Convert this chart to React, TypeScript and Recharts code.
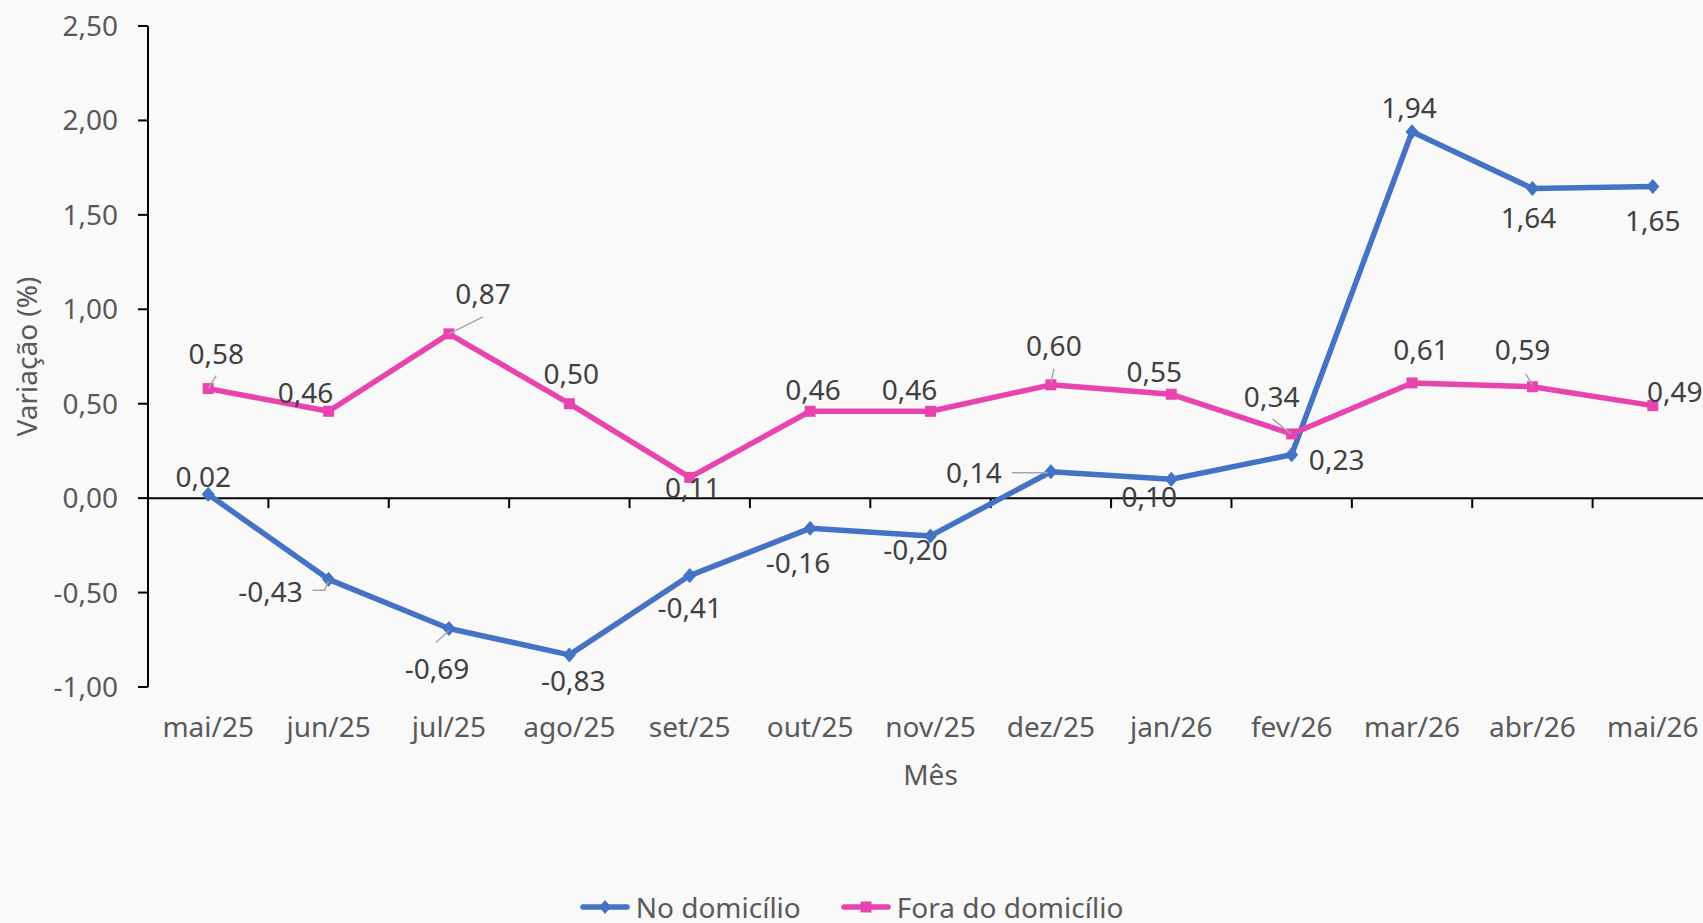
import React from 'react';
import { LineChart, Line, XAxis, YAxis, ReferenceLine, LabelList, Legend } from 'recharts';

const months = ['mai/25', 'jun/25', 'jul/25', 'ago/25', 'set/25', 'out/25', 'nov/25', 'dez/25', 'jan/26', 'fev/26', 'mar/26', 'abr/26', 'mai/26'];
const noDomicilio = [0.02, -0.43, -0.69, -0.83, -0.41, -0.16, -0.2, 0.14, 0.1, 0.23, 1.94, 1.64, 1.65];
const foraDomicilio = [0.58, 0.46, 0.87, 0.5, 0.11, 0.46, 0.46, 0.6, 0.55, 0.34, 0.61, 0.59, 0.49];
const yTicks = [-1, -0.5, 0, 0.5, 1, 1.5, 2, 2.5];
const seriesNames = ['No domicílio', 'Fora do domicílio'];

const BLUE = '#4472C4';
const PINK = '#E844AF';
const FONT = "'Noto Sans', sans-serif";
const TICK_COLOR = '#595959';
const LABEL_COLOR = '#404040';
const LEADER = '#A6A6A6';

type Placement = { dx: number; dy: number; leader?: number[][] };

// label placement (layout only: offset from point, and leader line points)
const noPlacement: Placement[] = [
  { dx: -5, dy: -7 },
  { dx: -58, dy: 23, leader: [[0, 2], [-4, 11], [-16, 11]] },
  { dx: -12, dy: 51, leader: [[0, 2], [-13, 14]] },
  { dx: 4, dy: 36 },
  { dx: 0, dy: 42 },
  { dx: -12, dy: 45 },
  { dx: -15, dy: 24 },
  { dx: -77, dy: 11, leader: [[-39, 1], [-3, 1]] },
  { dx: -22, dy: 28 },
  { dx: 45, dy: 15 },
  { dx: -3, dy: -14 },
  { dx: -4, dy: 40 },
  { dx: 0, dy: 44 },
];
const foraPlacement: Placement[] = [
  { dx: 8, dy: -25, leader: [[0, 0], [8, -13]] },
  { dx: -23, dy: -8 },
  { dx: 34, dy: -30, leader: [[0, 0], [34, -17]] },
  { dx: 2, dy: -20 },
  { dx: 3, dy: 21 },
  { dx: 3, dy: -11 },
  { dx: -21, dy: -11 },
  { dx: 3, dy: -29, leader: [[0, -2], [3, -16]] },
  { dx: -17, dy: -12 },
  { dx: -20, dy: -27, leader: [[-19, -15], [-1, 0]] },
  { dx: 9, dy: -23 },
  { dx: -10, dy: -27, leader: [[-7, -13], [0, -2]] },
  { dx: 22, dy: -4 },
];

const data = months.map((m, i) => ({ mes: m, no: noDomicilio[i], fora: foraDomicilio[i] }));

const fmt = (v: number) => v.toFixed(2).replace('.', ',');

const makeLabel = (placement: Placement[]) => (props: any) => {
  const vb = props.viewBox || {};
  const x = props.x ?? vb.x;
  const y = props.y ?? vb.y;
  const idx = props.index;
  const p = placement[idx] || { dx: 0, dy: -12 };
  if (x == null || y == null) return null;
  return (
    <g key={`lbl-${idx}`}>
      {p.leader && (
        <polyline
          points={p.leader.map(([a, b]) => `${x + a},${y + b}`).join(' ')}
          fill="none"
          stroke={LEADER}
          strokeWidth={1.5}
        />
      )}
      <text x={x + p.dx} y={y + p.dy} textAnchor="middle" fontFamily={FONT} fontSize={28} fill={LABEL_COLOR}>
        {fmt(Number(props.value))}
      </text>
    </g>
  );
};

const diamondDot = (props: any) => {
  const { cx, cy, index } = props;
  if (cx == null || cy == null) return <g key={`d-${index}`} />;
  return (
    <path
      key={`d-${index}`}
      d={`M${cx},${cy - 7}L${cx + 6},${cy}L${cx},${cy + 7}L${cx - 6},${cy}Z`}
      fill={BLUE}
      stroke={BLUE}
      strokeWidth={1}
    />
  );
};

const squareDot = (props: any) => {
  const { cx, cy, index } = props;
  if (cx == null || cy == null) return <g key={`s-${index}`} />;
  return <rect key={`s-${index}`} x={cx - 5.5} y={cy - 5.5} width={11} height={11} fill={PINK} />;
};

const zeroAxisShape = (props: any) => {
  const { x1, y1, x2 } = props;
  const n = months.length;
  const step = (x2 - x1) / n;
  const ticks = [];
  for (let k = 1; k <= n; k++) {
    const tx = x1 + k * step;
    ticks.push(<line key={k} x1={tx} y1={y1} x2={tx} y2={y1 + 10} stroke="#000" strokeWidth={2} />);
  }
  return (
    <g>
      <line x1={x1} y1={y1} x2={x2} y2={y1} stroke="#000" strokeWidth={2} />
      {ticks}
    </g>
  );
};

const LegendContent = () => {
  const items = [
    { name: seriesNames[0], color: BLUE, shape: 'diamond' },
    { name: seriesNames[1], color: PINK, shape: 'square' },
  ];
  return (
    <div style={{ display: 'flex', justifyContent: 'center', alignItems: 'center', fontFamily: FONT, fontSize: 28, color: TICK_COLOR, lineHeight: '40px' }}>
      {items.map((it, i) => (
        <div key={it.name} style={{ display: 'flex', alignItems: 'center', marginLeft: i === 0 ? 0 : 40 }}>
          <svg width={50} height={20} style={{ display: 'block' }}>
            <line x1={3} y1={10} x2={47} y2={10} stroke={it.color} strokeWidth={5.5} strokeLinecap="round" />
            {it.shape === 'diamond' ? (
              <path d="M25,3L31,10L25,17L19,10Z" fill={it.color} />
            ) : (
              <rect x={19.5} y={4.5} width={11} height={11} fill={it.color} />
            )}
          </svg>
          <span style={{ marginLeft: 6 }}>{it.name}</span>
        </div>
      ))}
    </div>
  );
};

export default function App() {
  return (
    <div style={{ position: 'fixed', left: 0, top: 0, width: 1703, height: 923, overflow: 'hidden', background: '#F9F9F9' }}>
      <LineChart width={1720} height={923} data={data} margin={{ top: 26, right: 7, bottom: 0, left: 0 }}>
        <ReferenceLine y={0} shape={zeroAxisShape} ifOverflow="visible" />
        <XAxis
          dataKey="mes"
          scale="band"
          height={236}
          axisLine={false}
          tickLine={false}
          tickSize={0}
          tickMargin={30}
          interval={0}
          tick={{ fontFamily: FONT, fontSize: 28, fill: TICK_COLOR }}
          label={{
            content: (p: any) => {
              const vb = p.viewBox || { x: 148, y: 687, width: 1565 };
              return (
                <text x={vb.x + vb.width / 2} y={vb.y + 98} textAnchor="middle" fontFamily={FONT} fontSize={28} fill={TICK_COLOR}>
                  Mês
                </text>
              );
            },
          }}
        />
        <YAxis
          width={148}
          domain={[-1, 2.5]}
          ticks={yTicks}
          interval={0}
          allowDataOverflow
          tickSize={10}
          tickMargin={20}
          tickFormatter={fmt}
          axisLine={{ stroke: '#000', strokeWidth: 2 }}
          tickLine={{ stroke: '#000', strokeWidth: 2 }}
          tick={{ fontFamily: FONT, fontSize: 28, fill: TICK_COLOR }}
          label={{
            content: (p: any) => {
              const vb = p.viewBox || { x: 0, y: 26, width: 148, height: 661 };
              const cx = vb.x + 37;
              const cy = vb.y + vb.height / 2;
              return (
                <text x={cx} y={cy} transform={`rotate(-90, ${cx}, ${cy})`} textAnchor="middle" fontFamily={FONT} fontSize={28} fill={TICK_COLOR}>
                  Variação (%)
                </text>
              );
            },
          }}
        />
        <Line
          dataKey="no"
          name={seriesNames[0]}
          stroke={BLUE}
          strokeWidth={5.5}
          strokeLinejoin="round"
          dot={diamondDot}
          activeDot={false}
          isAnimationActive={false}
        >
          <LabelList dataKey="no" content={makeLabel(noPlacement)} />
        </Line>
        <Line
          dataKey="fora"
          name={seriesNames[1]}
          stroke={PINK}
          strokeWidth={5.5}
          strokeLinejoin="round"
          dot={squareDot}
          activeDot={false}
          isAnimationActive={false}
        >
          <LabelList dataKey="fora" content={makeLabel(foraPlacement)} />
        </Line>
        <Legend
          layout="horizontal"
          verticalAlign="middle"
          align="center"
          content={<LegendContent />}
          wrapperStyle={{ top: 887, left: 0, width: 1703, height: 40 }}
        />
      </LineChart>
    </div>
  );
}
